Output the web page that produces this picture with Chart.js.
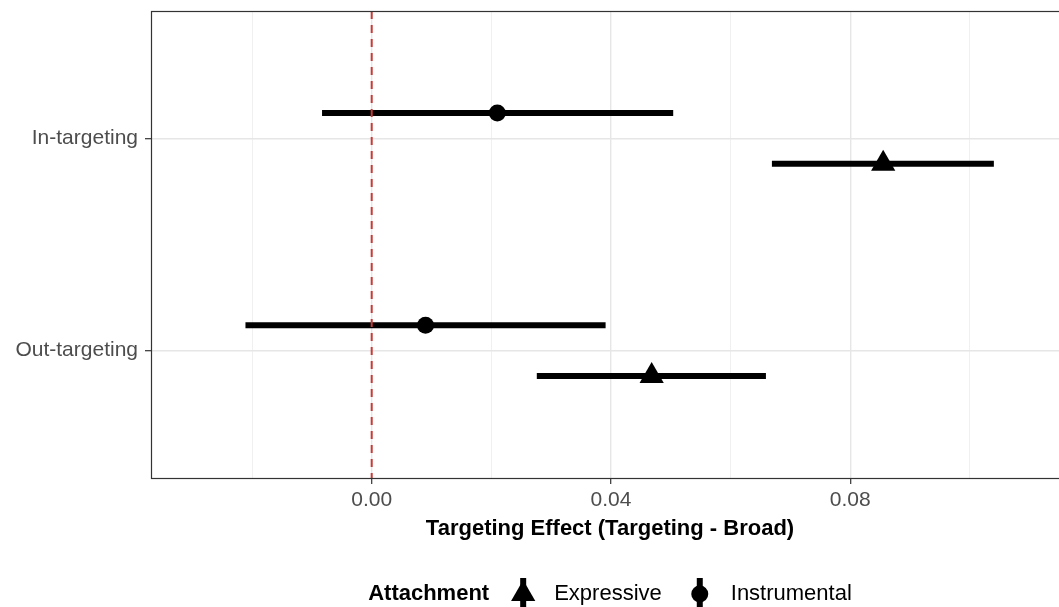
<!DOCTYPE html>
<html>
<head>
<meta charset="utf-8">
<script src="https://cdn.jsdelivr.net/npm/chart.js@4.4.1/dist/chart.umd.min.js"></script>
<style>
  html, body { margin: 0; padding: 0; background: #fff; overflow: hidden; }
  #wrap { width: 1075px; height: 620px; }
</style>
</head>
<body>
<div id="wrap"><canvas id="effects" width="1075" height="620"></canvas></div>
<script>
// groups, top to bottom
const categories = ['In-targeting', 'Out-targeting']

// Attachment: Instrumental (estimate, 95% interval)
const instrEst = [0.0210, 0.0090]
const instrLow = [-0.0083, -0.0211]
const instrHigh = [0.0504, 0.0391]

// Attachment: Expressive
const exprEst = [0.0855, 0.0468]
const exprLow = [0.0669, 0.0276]
const exprHigh = [0.1040, 0.0659]

// x axis breaks (labelled ones every 0.04, minor grid in between)
const xBreaks = [-0.02, 0, 0.02, 0.04, 0.06, 0.08, 0.10]
const xLabelled = [0, 0.04, 0.08]

const FONT = '"Liberation Sans", Arial, Helvetica, sans-serif'
const dodge = 0.12

const isMajor = v => xLabelled.some(m => Math.abs(m - v) < 1e-9)

function rangeLine(lo, hi, i, shift) {
	const y = i + 1 + shift
	return {
		data: [{ x: lo[i], y: y }, { x: hi[i], y: y }],
		showLine: true,
		borderColor: '#000',
		borderWidth: 6,
		borderCapStyle: 'butt',
		pointRadius: 0,
		pointHoverRadius: 0,
		order: 3
	}
}

const datasets = []
categories.forEach((c, i) => {
	datasets.push(rangeLine(instrLow, instrHigh, i, -dodge))
	datasets.push(rangeLine(exprLow, exprHigh, i, dodge))
})

datasets.push({
	label: 'Expressive',
	data: exprEst.map((x, i) => ({ x: x, y: i + 1 + dodge })),
	pointStyle: 'triangle',
	pointRadius: 14,
	pointBorderWidth: 0,
	backgroundColor: '#000',
	borderColor: '#000',
	order: 2
})
datasets.push({
	label: 'Instrumental',
	data: instrEst.map((x, i) => ({ x: x, y: i + 1 - dodge })),
	pointStyle: 'circle',
	pointRadius: 8.5,
	pointBorderWidth: 0,
	backgroundColor: '#000',
	borderColor: '#000',
	order: 2
})

// reference line at zero effect
datasets.push({
	data: [{ x: 0, y: 0.4 }, { x: 0, y: 2.6 }],
	showLine: true,
	borderColor: '#c83a36',
	borderWidth: 2,
	borderDash: [8, 6],
	pointRadius: 0,
	order: 0
})

// full panel border
const panelBorder = {
	id: 'panelBorder',
	afterDraw(chart) {
		const { ctx, chartArea: a } = chart
		ctx.save()
		ctx.strokeStyle = '#333'
		ctx.lineWidth = 1.2
		ctx.strokeRect(a.left + 0.5, a.top + 0.5, a.right - a.left, a.bottom - a.top)
		ctx.restore()
	}
}

// ggplot-like legend: bold title inline, then keys
const attachLegend = {
	id: 'attachLegend',
	afterDraw(chart) {
		const ctx = chart.ctx
		const keys = chart.data.datasets.filter(d => d.label)
		const cy = 594
		ctx.save()
		ctx.fillStyle = '#000'
		ctx.strokeStyle = '#000'
		ctx.textBaseline = 'middle'
		ctx.font = 'bold 22px ' + FONT
		const title = 'Attachment'
		const tw = ctx.measureText(title).width
		ctx.font = '22px ' + FONT
		const widths = keys.map(k => ctx.measureText(k.label).width)
		const total = tw + keys.length * (34 + 31) + widths.reduce((s, w) => s + w, 0) + (keys.length - 1) * 4
		let x = 610 - total / 2
		ctx.font = 'bold 22px ' + FONT
		ctx.fillText(title, x, cy)
		x += tw
		keys.forEach((k, i) => {
			const kx = x + 34
			ctx.lineWidth = 6
			ctx.beginPath()
			ctx.moveTo(kx, cy - 16)
			ctx.lineTo(kx, cy + 18)
			ctx.stroke()
			ctx.beginPath()
			if (k.pointStyle === 'triangle') {
				const r = 14
				ctx.moveTo(kx, cy - r)
				ctx.lineTo(kx + r * 0.866, cy + r / 2)
				ctx.lineTo(kx - r * 0.866, cy + r / 2)
				ctx.closePath()
			} else {
				ctx.arc(kx, cy, 8.5, 0, Math.PI * 2)
			}
			ctx.fill()
			x = kx + 31
			ctx.font = '22px ' + FONT
			ctx.fillText(k.label, x, cy)
			x += widths[i] + 4
		})
		ctx.restore()
	}
}

new Chart(document.getElementById('effects'), {
	type: 'scatter',
	data: { datasets: datasets },
	plugins: [panelBorder, attachLegend],
	options: {
		responsive: false,
		animation: false,
		layout: { autoPadding: false, padding: { top: 11, right: 6, bottom: 0, left: 0 } },
		plugins: {
			legend: { display: false },
			tooltip: { enabled: false }
		},
		scales: {
			x: {
				type: 'linear',
				min: -0.03689,
				max: 0.11656,
				afterBuildTicks: axis => {
					axis.ticks = xBreaks.map(v => ({ value: v }))
				},
				afterFit: axis => {
					axis.height = 142
					axis.paddingLeft = 0
					axis.paddingRight = 0
				},
				border: { display: false },
				grid: {
					color: c => (isMajor(c.tick.value) ? '#e6e6e6' : '#f0f0f0'),
					lineWidth: c => (isMajor(c.tick.value) ? 1.4 : 1),
					tickColor: c => (isMajor(c.tick.value) ? '#333' : 'rgba(0,0,0,0)'),
					tickLength: 6,
					tickWidth: 1.2
				},
				ticks: {
					autoSkip: false,
					maxRotation: 0,
					padding: 4,
					color: '#4d4d4d',
					font: { family: FONT, size: 21 },
					callback: v => (isMajor(v) ? v.toFixed(2) : '')
				},
				title: {
					display: true,
					text: 'Targeting Effect (Targeting - Broad)',
					color: '#000',
					font: { family: FONT, size: 22, weight: 'bold' },
					padding: { top: 0, bottom: 78 }
				}
			},
			y: {
				type: 'linear',
				reverse: true,
				min: 0.4,
				max: 2.6,
				afterBuildTicks: axis => {
					axis.ticks = categories.map((c, i) => ({ value: i + 1 }))
				},
				afterFit: axis => {
					axis.width = 151
					axis.paddingTop = 0
					axis.paddingBottom = 0
				},
				border: { display: false },
				grid: {
					color: '#e6e6e6',
					lineWidth: 1.4,
					tickColor: '#333',
					tickLength: 6,
					tickWidth: 1.2
				},
				ticks: {
					autoSkip: false,
					padding: 7,
					color: '#4d4d4d',
					font: { family: FONT, size: 21 },
					callback: v => categories[Math.round(v) - 1]
				}
			}
		}
	}
})
</script>
</body>
</html>
